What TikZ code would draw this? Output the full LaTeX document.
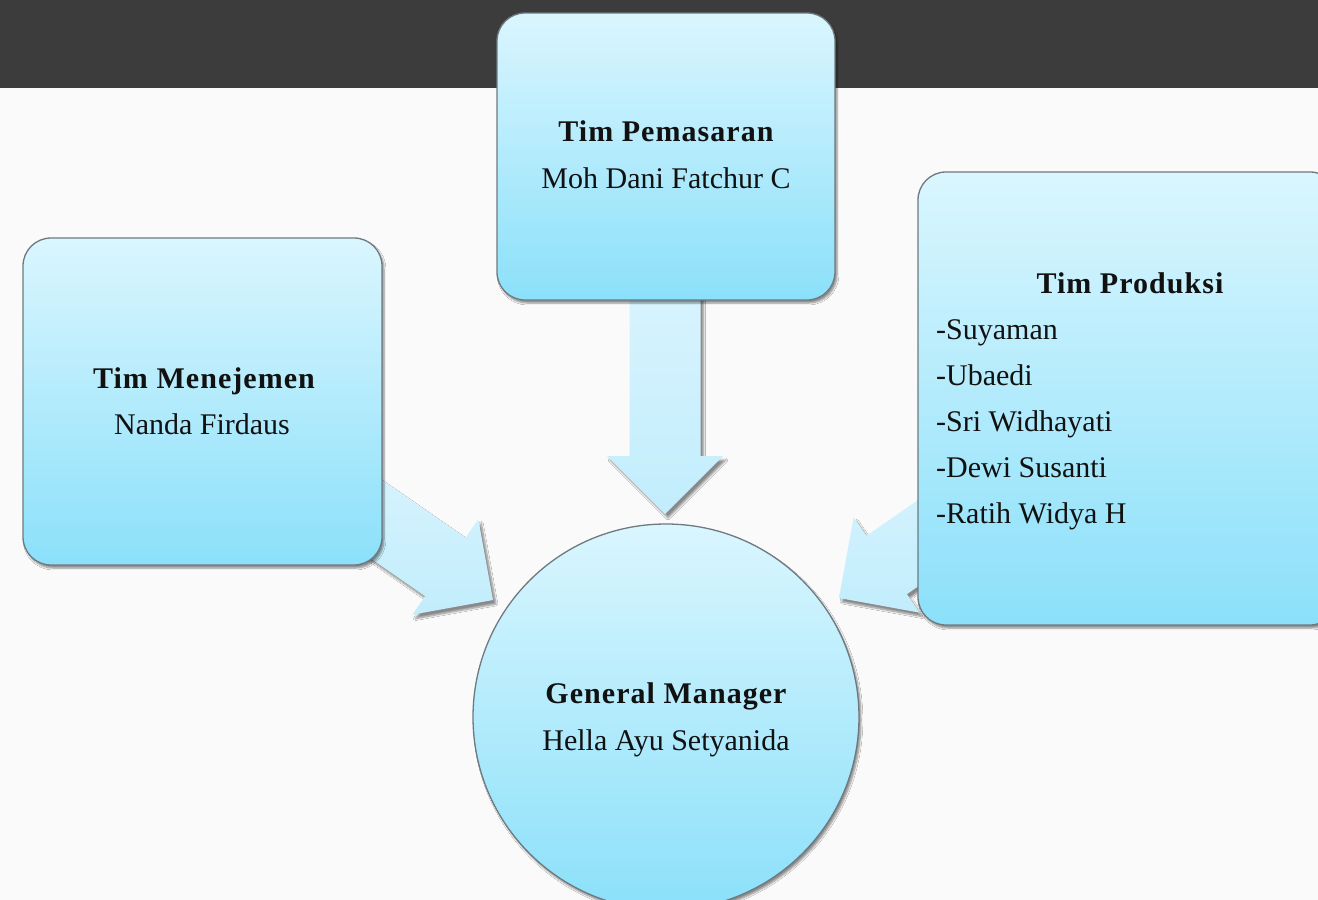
\documentclass[tikz,border=0pt]{standalone}
\usepackage{fontspec}
\setmainfont{Liberation Serif}
\usetikzlibrary{shadows.blur}
\definecolor{bg}{HTML}{FAFAFA}
\definecolor{band}{HTML}{3C3C3C}
\definecolor{boxtop}{HTML}{DAF6FE}
\definecolor{boxbot}{HTML}{8BE0FA}
\definecolor{arrtop}{HTML}{D9F4FE}
\definecolor{arrbot}{HTML}{C2EDFC}
\definecolor{edge}{HTML}{6E7A80}
\definecolor{ink}{HTML}{111111}
\newcommand\hdtxt[1]{{\bfseries\addfontfeature{LetterSpace=3.5}#1}}
\tikzset{
  box/.style={draw=edge, line width=1.3pt, rounded corners=28pt,
    top color=boxtop, bottom color=boxbot,
    blur shadow={shadow xshift=2pt, shadow yshift=-3pt, shadow opacity=45, shadow blur steps=6}},
  ring/.style={circle, draw=edge, line width=1.3pt, inner sep=0pt,
    top color=boxtop, bottom color=boxbot,
    blur shadow={shadow xshift=2pt, shadow yshift=-3pt, shadow opacity=45, shadow blur steps=6}},
  arrowshape/.style={top color=arrtop, bottom color=arrbot,
    blur shadow={shadow xshift=3pt, shadow yshift=-4pt, shadow opacity=45, shadow blur steps=8}},
  txt/.style={text=ink, inner sep=0pt, anchor=base},
  pics/bigarrow/.style={code={
    \path[arrowshape] (0,0) -- (-58,58) -- (-58,35.5) -- (-#1,35.5) -- (-#1,-35.5)
      -- (-58,-35.5) -- (-58,-58) -- cycle;}}
}
\begin{document}
\begin{tikzpicture}[x=1pt, y=-1pt, font=\fontsize{30}{36}\selectfont]
\clip (0,0) rectangle (1318,900);
\useasboundingbox (0,0) rectangle (1318,900);
\fill[bg] (0,0) rectangle (1318,900);
\fill[band] (0,0) rectangle (1318,88);

% arrows (behind boxes)
\pic[shift={(665,514)}, rotate=-90] {bigarrow=240};
\pic[shift={(493,600)}, rotate=-34.7] {bigarrow=220};
\pic[shift={(839,598)}, rotate=-145.3] {bigarrow=220};

% boxes
\node[box, minimum width=338pt, minimum height=287pt] (pem) at (666,156.5) {};
\node[box, minimum width=359pt, minimum height=327pt] (men) at (202.5,401.5) {};
\node[box, minimum width=420pt, minimum height=453pt] (pro) at (1128,398.5) {};
\node[ring, minimum size=386pt] (gm) at (666,717) {};

% texts
\node[txt] (pemT) at (666,141) {\hdtxt{Tim Pemasaran}};
\node[txt] (pemN) at (666,188) {Moh Dani Fatchur C};
\node[txt] (menT) at (204,388) {\hdtxt{Tim Menejemen}};
\node[txt] (menN) at (202,434) {Nanda Firdaus};
\node[txt] (proT) at (1130,293) {\hdtxt{Tim Produksi}};
\node[txt, anchor=base west] (p1) at (936,339) {-Suyaman};
\node[txt, anchor=base west] (p2) at (936,385) {-Ubaedi};
\node[txt, anchor=base west] (p3) at (936,431) {-Sri Widhayati};
\node[txt, anchor=base west] (p4) at (936,477) {-Dewi Susanti};
\node[txt, anchor=base west] (p5) at (936,523) {-Ratih Widya H};
\node[txt] (gmT) at (666,703) {\hdtxt{General Manager}};
\node[txt] (gmN) at (666,750) {Hella Ayu Setyanida};
\end{tikzpicture}
\end{document}
